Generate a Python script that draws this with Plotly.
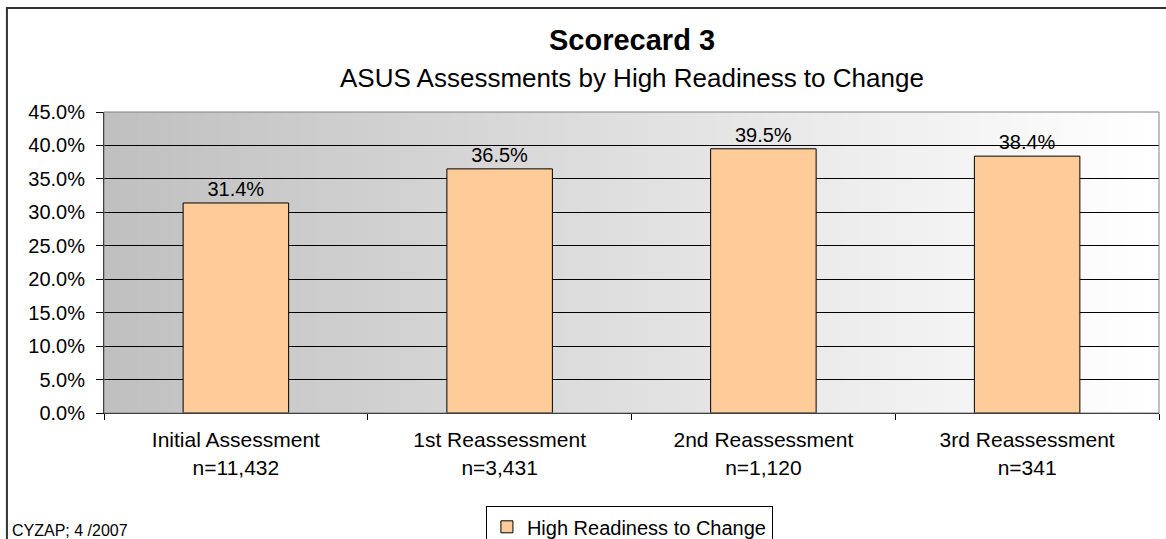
import plotly.graph_objects as go

categories = ["Initial Assessment<br>n=11,432", "1st Reassessment<br>n=3,431",
              "2nd Reassessment<br>n=1,120", "3rd Reassessment<br>n=341"]
high_readiness = [0.314, 0.365, 0.395, 0.384]
y_ticks = [0, 0.05, 0.10, 0.15, 0.20, 0.25, 0.30, 0.35, 0.40, 0.45]

FONT = "Liberation Sans, Arial, sans-serif"

fig = go.Figure()
fig.add_bar(
    x=categories, y=high_readiness, name="High Readiness to Change",
    width=0.4, marker=dict(color="#FFCC99", line=dict(color="black", width=1)),
    texttemplate="%{y:.1%}", textposition="outside", cliponaxis=False,
    textfont=dict(size=20, color="black"),
)

# grey-to-white horizontal gradient behind the plot area
shapes = []
n = 64
for i in range(n):
    c = int(192 + (255 - 192) * i / (n - 1))
    shapes.append(dict(type="rect", xref="paper", yref="paper", layer="below",
                       x0=i / n, x1=(i + 1) / n + 0.002, y0=0, y1=1,
                       line=dict(width=0), fillcolor=f"rgb({c},{c},{c})"))
# plot area frame and outer chart frame
shapes.append(dict(type="rect", xref="paper", yref="paper", x0=0, x1=1, y0=0, y1=1,
                   line=dict(color="#808080", width=1)))
shapes.append(dict(type="rect", xref="paper", yref="paper", x0=-0.092, x1=1.2,
                   y0=-0.6, y1=1.3455, line=dict(color="#333333", width=2)))

fig.update_layout(
    width=1166, height=539,
    margin=dict(l=104, r=7, t=112, b=126, autoexpand=False),
    paper_bgcolor="white", plot_bgcolor="rgba(0,0,0,0)",
    font=dict(family=FONT, color="black", size=20),
    shapes=shapes,
    showlegend=True,
    legend=dict(x=0.362, y=-0.31, xanchor="left", yanchor="top",
                bordercolor="black", borderwidth=1, bgcolor="white",
                font=dict(size=20), itemwidth=30),
    annotations=[
        dict(text="<b>Scorecard 3</b>", x=0.5, y=1.239, xref="paper", yref="paper",
             yanchor="middle", showarrow=False, font=dict(size=29)),
        dict(text="ASUS Assessments by High Readiness to Change", x=0.5, y=1.113,
             xref="paper", yref="paper", yanchor="middle", showarrow=False,
             font=dict(size=26)),
        dict(text="CYZAP; 4 /2007", x=-0.089, y=-0.389, xref="paper", yref="paper",
             xanchor="left", yanchor="middle", showarrow=False, font=dict(size=16)),
    ],
    bargap=0.6,
)
fig.update_yaxes(range=[0, 0.45], tickvals=y_ticks, tickformat=".1%",
                 showgrid=True, gridcolor="black", gridwidth=1,
                 ticks="outside", ticklen=7, tickcolor="black",
                 tickfont=dict(size=20), ticklabelstandoff=7,
                 showline=True, linecolor="black", zeroline=False)
fig.update_xaxes(tickson="boundaries", ticks="outside", ticklen=6, tickcolor="black",
                 tickfont=dict(size=21), ticklabelstandoff=8,
                 showline=True, linecolor="black", showgrid=False)

# drop the browser's default body margin so the figure fills the window
fig.write_html("out.html", config={"displayModeBar": False},
               post_script="document.body.style.margin='0';document.body.style.overflow='hidden';")
